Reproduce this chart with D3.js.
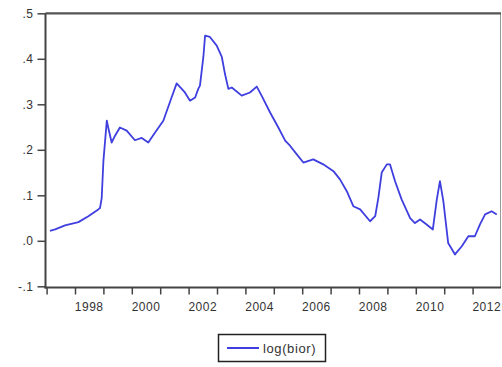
<!DOCTYPE html>
<html>
<head>
<meta charset="utf-8">
<script src="https://cdn.jsdelivr.net/npm/d3@7"></script>
<style>
  html, body { margin: 0; padding: 0; background: #fff; }
  svg { display: block; }
  text { font-family: Arial, "Liberation Sans", sans-serif; fill: #333; }
</style>
</head>
<body>
<svg id="chart" width="502" height="367"></svg>
<script>
// Observation dates (decimal years) and log(bior) values
const dates = [
  1997.12, 1997.30, 1997.65, 1998.12, 1998.47, 1998.82, 1998.88, 1998.94,
  1999.00, 1999.06, 1999.12, 1999.17, 1999.29, 1999.41, 1999.58, 1999.82,
  2000.11, 2000.35, 2000.58, 2000.82, 2001.11, 2001.40, 2001.58, 2001.87,
  2002.05, 2002.23, 2002.34, 2002.40, 2002.52, 2002.58, 2002.75, 2002.99,
  2003.17, 2003.28, 2003.40, 2003.52, 2003.87, 2004.16, 2004.40, 2004.57,
  2004.87, 2005.16, 2005.40, 2005.57, 2005.81, 2006.04, 2006.39, 2006.74,
  2007.10, 2007.33, 2007.57, 2007.80, 2008.04, 2008.39, 2008.57, 2008.68,
  2008.80, 2008.98, 2009.09, 2009.27, 2009.50, 2009.80, 2009.97, 2010.15,
  2010.38, 2010.60, 2010.74, 2010.85, 2010.97, 2011.14, 2011.38, 2011.62,
  2011.85, 2012.08, 2012.26, 2012.44, 2012.67, 2012.85
];
const logBior = [
  0.022, 0.025, 0.034, 0.041, 0.054, 0.069, 0.072, 0.094,
  0.175, 0.220, 0.264, 0.249, 0.216, 0.231, 0.249, 0.242,
  0.221, 0.226, 0.216, 0.238, 0.264, 0.315, 0.346, 0.326,
  0.308, 0.315, 0.334, 0.341, 0.404, 0.451, 0.448, 0.429,
  0.404, 0.367, 0.334, 0.337, 0.319, 0.326, 0.339, 0.319,
  0.282, 0.249, 0.220, 0.209, 0.190, 0.172, 0.179, 0.168,
  0.153, 0.135, 0.109, 0.076, 0.069, 0.043, 0.054, 0.094,
  0.150, 0.168, 0.168, 0.131, 0.091, 0.050, 0.039, 0.047,
  0.036, 0.025, 0.091, 0.131, 0.087, -0.005, -0.030, -0.012,
  0.010, 0.010, 0.036, 0.058, 0.065, 0.058
];
const yearTicks = d3.range(1997, 2013);
const yearLabels = [1998, 2000, 2002, 2004, 2006, 2008, 2010, 2012];
const valueTicks = [-0.1, 0.0, 0.1, 0.2, 0.3, 0.4, 0.5];
const seriesName = "log(bior)";

const svg = d3.select("#chart");
const plotL = 45.5, plotR = 500.5, plotT = 13.3, plotB = 287.5;

const x = d3.scaleLinear().domain([1997, 2013]).range([46.6, 501]);
const y = d3.scaleLinear().domain([-0.1, 0.5]).range([286.3, 13.3]);

const fmt = v => d3.format(".1f")(v).replace("0.", ".").replace("−", "-");
const labelColor = "#505050";

// frame: thin light right edge, dark top
svg.append("line").attr("x1", plotR).attr("x2", plotR).attr("y1", plotT).attr("y2", plotB)
  .attr("stroke", "#9a9a9a").attr("stroke-width", 1);
svg.append("line").attr("x1", plotL).attr("x2", plotR + 0.5).attr("y1", plotT).attr("y2", plotT)
  .attr("stroke", "#555").attr("stroke-width", 2.2);

// y axis
const yAxis = d3.axisLeft(y).tickValues(valueTicks).tickSize(8).tickPadding(4).tickFormat(fmt);
const gy = svg.append("g").attr("transform", `translate(${plotL},0)`).call(yAxis);
gy.select(".domain").attr("stroke", "#444").attr("stroke-width", 2).attr("d", `M0,${plotT}V${plotB + 1}`);
gy.selectAll(".tick line").attr("stroke", "#444").attr("stroke-width", 1.5);
gy.selectAll(".tick text").attr("font-size", 12).attr("letter-spacing", 0.5).attr("fill", labelColor)
  .attr("font-family", "Arial, 'Liberation Sans', sans-serif");

// x axis: ticks at year boundaries, labels mid-year
const xAxis = d3.axisBottom(x).tickValues(yearTicks).tickSize(7).tickFormat("");
const gx = svg.append("g").attr("transform", `translate(0,${plotB})`).call(xAxis);
gx.select(".domain").attr("stroke", "#444").attr("stroke-width", 2).attr("d", `M${plotL - 1},0H${plotR + 0.5}`);
gx.selectAll(".tick line").attr("stroke", "#444").attr("stroke-width", 1.5);

svg.append("g").selectAll("text").data(yearLabels).join("text")
  .attr("x", d => x(d + 0.5)).attr("y", 310.5)
  .attr("text-anchor", "middle").attr("font-size", 12).attr("letter-spacing", 0.5)
  .attr("fill", labelColor)
  .text(d => d);

// series line
const pts = dates.map((d, i) => [d, logBior[i]]);
svg.append("path").datum(pts)
  .attr("fill", "none").attr("stroke", "#3f3fe0").attr("stroke-width", 1.8)
  .attr("stroke-linejoin", "round")
  .attr("d", d3.line().x(d => x(d[0])).y(d => y(d[1])));

// legend
const lg = svg.append("g");
lg.append("rect").attr("x", 218.5).attr("y", 334.5).attr("width", 107).attr("height", 27)
  .attr("fill", "#fff").attr("stroke", "#222").attr("stroke-width", 1.5);
lg.append("line").attr("x1", 227).attr("x2", 259).attr("y1", 348).attr("y2", 348)
  .attr("stroke", "#3f3fe0").attr("stroke-width", 2);
lg.append("text").attr("x", 263).attr("y", 352.5).attr("font-size", 13).attr("letter-spacing", 0.6)
  .attr("fill", labelColor).text(seriesName);
</script>
</body>
</html>
